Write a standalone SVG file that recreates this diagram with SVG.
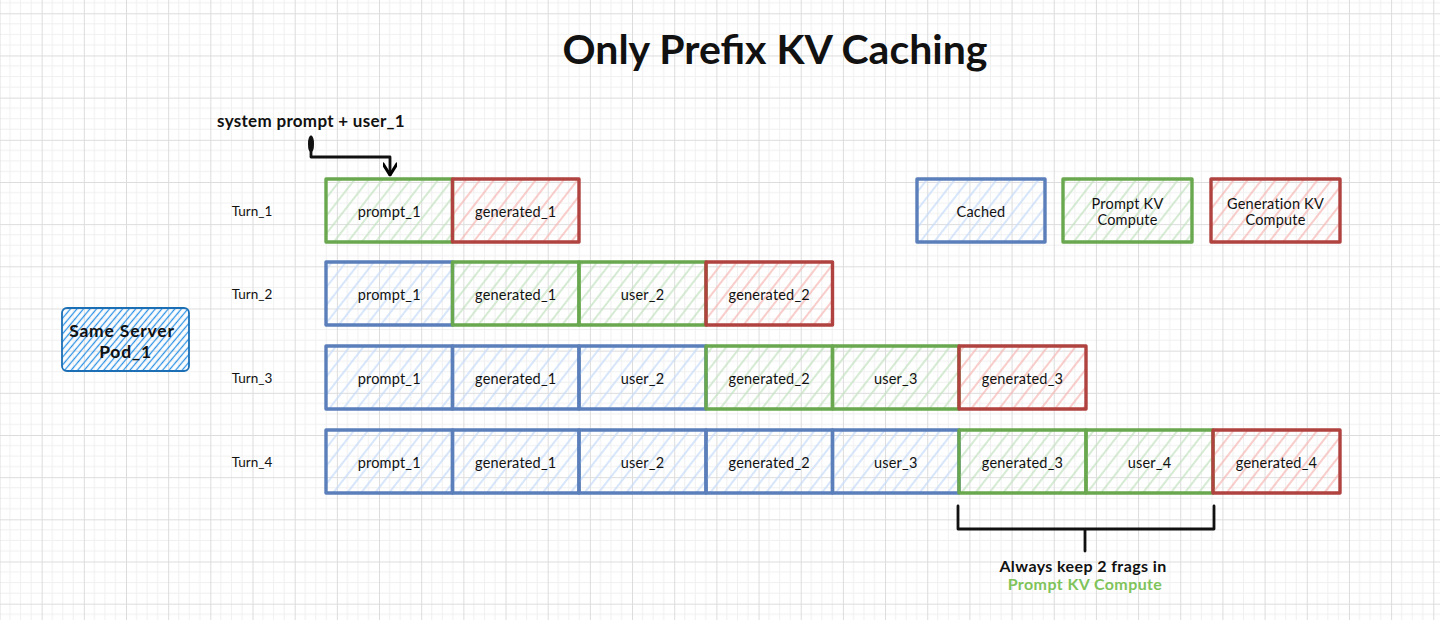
<svg xmlns="http://www.w3.org/2000/svg" width="1440" height="620" viewBox="0 0 1440 620">
  <defs>
    <!-- background grid: minor every 10.54px, major every 42.17px -->
    <pattern id="grid" x="-0.5" y="13.3" width="42.17" height="42.17" patternUnits="userSpaceOnUse">
      <path d="M10.54 0V42.17M21.08 0V42.17M31.63 0V42.17M0 10.54H42.17M0 21.08H42.17M0 31.63H42.17" stroke="#f0f0f0" stroke-width="1" fill="none"/>
      <path d="M0.5 0V42.17M0 0.5H42.17" stroke="#dcdcdc" stroke-width="1" fill="none"/>
    </pattern>
    <!-- hachure fills -->
    <pattern id="hBlue" width="11" height="11" patternUnits="userSpaceOnUse" patternTransform="rotate(38)">
      <line x1="5" y1="0" x2="5" y2="11" stroke="#c6dcf8" stroke-width="1.4"/>
    </pattern>
    <pattern id="hGreen" width="11" height="11" patternUnits="userSpaceOnUse" patternTransform="rotate(38)">
      <line x1="5" y1="0" x2="5" y2="11" stroke="#c4e2c1" stroke-width="1.4"/>
    </pattern>
    <pattern id="hRed" width="11" height="11" patternUnits="userSpaceOnUse" patternTransform="rotate(38)">
      <line x1="5" y1="0" x2="5" y2="11" stroke="#f5b8b4" stroke-width="1.4"/>
    </pattern>
    <pattern id="hPod" width="5" height="5" patternUnits="userSpaceOnUse" patternTransform="rotate(40)">
      <line x1="2.5" y1="0" x2="2.5" y2="5" stroke="#2f93e6" stroke-width="1.3"/>
    </pattern>
    <marker id="arrowHead" viewBox="0 0 10 10" refX="9" refY="5" markerWidth="14" markerHeight="14" markerUnits="userSpaceOnUse" orient="auto">
      <path d="M1 0 L9 5 L1 10" fill="none" stroke="#000" stroke-width="2.2" stroke-linejoin="round" stroke-linecap="round"/>
    </marker>
    <style>
      .t { font-family: "Lato", "Liberation Sans", sans-serif; fill: #111; }
      .lbl { font-size: 14.5px; text-anchor: middle; dominant-baseline: central; letter-spacing: 0.2px; }
      .turn { font-size: 13.5px; text-anchor: middle; dominant-baseline: central; }
      .blue { fill: url(#hBlue); stroke: #5b7fba; stroke-width: 3.4; stroke-linejoin: round; }
      .green { fill: url(#hGreen); stroke: #6aa84f; stroke-width: 3.4; stroke-linejoin: round; }
      .red { fill: url(#hRed); stroke: #b0433f; stroke-width: 3.4; stroke-linejoin: round; }
      .ink { fill: none; stroke: #111; stroke-width: 2.8; stroke-linecap: round; stroke-linejoin: round; }
      .bold { font-weight: 700; text-anchor: middle; dominant-baseline: central; }
    </style>
  </defs>

  <rect width="1440" height="620" fill="#ffffff"/>
  <rect width="1440" height="620" fill="url(#grid)"/>

  <!-- title -->
  <text class="t bold" x="775" y="48" font-size="41">Only Prefix KV Caching</text>

  <!-- annotation above turn 1 -->
  <text class="t bold" x="311" y="120" font-size="17" letter-spacing="0.3">system prompt + user_1</text>

  <!-- server pod -->
  <g id="pod">
    <rect x="62" y="308" width="127" height="63" rx="5" fill="url(#hPod)" stroke="#1c6fb5" stroke-width="1.8"/>
    <text class="t bold" x="122" y="330" font-size="17.5" letter-spacing="0.8">Same Server</text>
    <text class="t bold" x="125.5" y="351" font-size="17.5" letter-spacing="0.8">Pod_1</text>
  </g>

  <!-- turn labels -->
  <g id="turn-labels">
    <text class="t turn" x="252" y="211">Turn_1</text>
    <text class="t turn" x="252" y="294">Turn_2</text>
    <text class="t turn" x="252" y="378">Turn_3</text>
    <text class="t turn" x="252" y="462">Turn_4</text>
  </g>

  <!-- Turn 1 -->
  <g id="turn1">
    <g id="t1-prompt1"><rect class="green" x="326" y="179" width="126.5" height="63"/><text class="t lbl" x="389.25" y="211">prompt_1</text></g>
    <g id="t1-gen1"><rect class="red" x="452.5" y="179" width="126.5" height="63"/><text class="t lbl" x="515.75" y="211">generated_1</text></g>
  </g>

  <!-- Turn 2 -->
  <g id="turn2">
    <g id="t2-prompt1"><rect class="blue" x="326" y="262" width="126.5" height="63"/><text class="t lbl" x="389.25" y="294">prompt_1</text></g>
    <g id="t2-gen1"><rect class="green" x="452.5" y="262" width="126.5" height="63"/><text class="t lbl" x="515.75" y="294">generated_1</text></g>
    <g id="t2-user2"><rect class="green" x="579" y="262" width="127" height="63"/><text class="t lbl" x="642.5" y="294">user_2</text></g>
    <g id="t2-gen2"><rect class="red" x="706" y="262" width="126.5" height="63"/><text class="t lbl" x="769.25" y="294">generated_2</text></g>
  </g>

  <!-- Turn 3 -->
  <g id="turn3">
    <g id="t3-prompt1"><rect class="blue" x="326" y="346" width="126.5" height="63"/><text class="t lbl" x="389.25" y="378">prompt_1</text></g>
    <g id="t3-gen1"><rect class="blue" x="452.5" y="346" width="126.5" height="63"/><text class="t lbl" x="515.75" y="378">generated_1</text></g>
    <g id="t3-user2"><rect class="blue" x="579" y="346" width="127" height="63"/><text class="t lbl" x="642.5" y="378">user_2</text></g>
    <g id="t3-gen2"><rect class="green" x="706" y="346" width="126.5" height="63"/><text class="t lbl" x="769.25" y="378">generated_2</text></g>
    <g id="t3-user3"><rect class="green" x="832.5" y="346" width="126.5" height="63"/><text class="t lbl" x="895.75" y="378">user_3</text></g>
    <g id="t3-gen3"><rect class="red" x="959" y="346" width="127" height="63"/><text class="t lbl" x="1022.5" y="378">generated_3</text></g>
  </g>

  <!-- Turn 4 -->
  <g id="turn4">
    <g id="t4-prompt1"><rect class="blue" x="326" y="430" width="126.5" height="63"/><text class="t lbl" x="389.25" y="462">prompt_1</text></g>
    <g id="t4-gen1"><rect class="blue" x="452.5" y="430" width="126.5" height="63"/><text class="t lbl" x="515.75" y="462">generated_1</text></g>
    <g id="t4-user2"><rect class="blue" x="579" y="430" width="127" height="63"/><text class="t lbl" x="642.5" y="462">user_2</text></g>
    <g id="t4-gen2"><rect class="blue" x="706" y="430" width="126.5" height="63"/><text class="t lbl" x="769.25" y="462">generated_2</text></g>
    <g id="t4-user3"><rect class="blue" x="832.5" y="430" width="126.5" height="63"/><text class="t lbl" x="895.75" y="462">user_3</text></g>
    <g id="t4-gen3"><rect class="green" x="959" y="430" width="127" height="63"/><text class="t lbl" x="1022.5" y="462">generated_3</text></g>
    <g id="t4-user4"><rect class="green" x="1086" y="430" width="127" height="63"/><text class="t lbl" x="1149.5" y="462">user_4</text></g>
    <g id="t4-gen4"><rect class="red" x="1213" y="430" width="127" height="63"/><text class="t lbl" x="1276.5" y="462">generated_4</text></g>
  </g>

  <!-- legend -->
  <g id="legend-cached"><rect class="blue" x="917" y="179" width="128" height="63"/><text class="t lbl" x="981" y="211">Cached</text></g>
  <g id="legend-prompt"><rect class="green" x="1063" y="179" width="129" height="63"/><text class="t lbl" x="1127.5" y="203">Prompt KV</text><text class="t lbl" x="1127.5" y="219">Compute</text></g>
  <g id="legend-gen"><rect class="red" x="1211" y="179" width="129" height="63"/><text class="t lbl" x="1275.5" y="203">Generation KV</text><text class="t lbl" x="1275.5" y="219">Compute</text></g>

  <!-- connectors -->
  <g id="connectors">
    <path class="ink" d="M311 137 L311 157 L390 157 L390 175" marker-end="url(#arrowHead)"/>
    <ellipse cx="311" cy="144" rx="2" ry="7" fill="none" stroke="#111" stroke-width="2"/>
    <!-- brace under the two prompt-compute fragments -->
    <path class="ink" d="M958 506 L958 529 L1214 529 L1214 506 M1085 529 L1085 551"/>
  </g>

  <!-- brace note -->
  <g id="brace-note">
    <text class="t bold" x="1083" y="565" font-size="16" letter-spacing="0.4">Always keep 2 frags in</text>
    <text class="bold" x="1085" y="583" font-family="Lato, 'Liberation Sans', sans-serif" font-size="16" letter-spacing="0.4" fill="#7fc35b">Prompt KV Compute</text>
  </g>
</svg>
